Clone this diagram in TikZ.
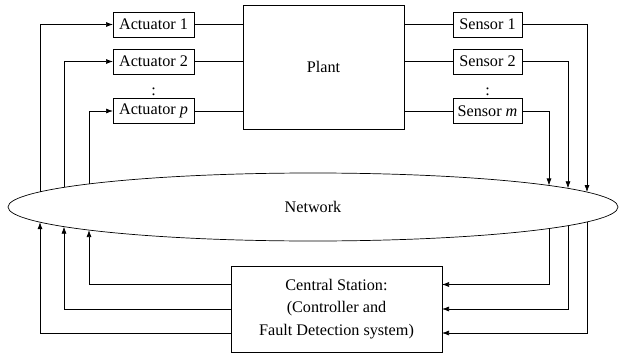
\documentclass[tikz,border=0pt]{standalone}
\usepackage{fontspec}
\setmainfont{Liberation Serif}
\usetikzlibrary{positioning,arrows.meta,shapes.geometric}

\begin{document}
\begin{tikzpicture}[x=1pt, y=-1pt, line width=0.7pt,
  block/.style={rectangle, draw, inner sep=0pt, outer sep=0pt, minimum height=25pt},
  arr/.style={-{Latex[length=7pt,width=5pt]}},
  every node/.style={font=\fontsize{16.2}{22.5}\selectfont}]
\useasboundingbox (0,0) rectangle (619,356);

\node[block, minimum width=81pt] (act1) at (153.5,24.5) {Actuator 1};
\node[block, minimum width=81pt] (act2) at (153.5,61.5) {Actuator 2};
\node (adots) at (153.5,92) {:};
\node[block, minimum width=81pt] (actp) at (153.5,111) {Actuator \textit{p}};

\node[block, minimum width=161pt, minimum height=124pt] (plant) at (323.5,67) {Plant};

\node[block, minimum width=69pt] (sen1) at (487.5,24.5) {Sensor 1};
\node[block, minimum width=69pt] (sen2) at (487.5,61.5) {Sensor 2};
\node (sdots) at (487.5,92) {:};
\node[block, minimum width=69pt] (senm) at (487.5,111) {Sensor \textit{m}};

\node[ellipse, draw, inner sep=0pt, outer sep=0pt, minimum width=610pt, minimum height=68pt] (net) at (313,207) {Network};

\node[block, minimum width=211pt, minimum height=86pt, align=center] (cs) at (336.5,309) {Central Station:\\(Controller and\\Fault Detection system)};

% points on the network border
\coordinate (nt1) at (40,191.84);
\coordinate (nt2) at (64,187.37);
\coordinate (ntp) at (89,183.92);
\coordinate (nb1) at (40,222.16);
\coordinate (nb2) at (64,226.63);
\coordinate (nbp) at (89,230.08);
\coordinate (ns1) at (587,192.07);
\coordinate (ns2) at (568,188.35);
\coordinate (nsm) at (549,185.46);
\coordinate (nr1) at (587,221.93);
\coordinate (nr2) at (568,225.65);
\coordinate (nrm) at (549,228.54);

\draw (act1.east) -- (act1.east -| plant.west);
\draw (act2.east) -- (act2.east -| plant.west);
\draw (actp.east) -- (actp.east -| plant.west);
\draw (plant.east |- sen1.west) -- (sen1.west);
\draw (plant.east |- sen2.west) -- (sen2.west);
\draw (plant.east |- senm.west) -- (senm.west);

\draw[arr] (nt1) |- (act1.west);
\draw[arr] (nt2) |- (act2.west);
\draw[arr] (ntp) |- (actp.west);

\draw[arr] (sen1.east) -| (ns1);
\draw[arr] (sen2.east) -| (ns2);
\draw[arr] (senm.east) -| (nsm);

\draw[arr] ([yshift=24.5pt]cs.west) -| (nbp);
\draw[arr] (cs.west) -| (nb2);
\draw[arr] ([yshift=-24pt]cs.west) -| (nb1);

\draw[arr] (nrm) |- ([yshift=24.5pt]cs.east);
\draw[arr] (nr2) |- (cs.east);
\draw[arr] (nr1) |- ([yshift=-24pt]cs.east);
\end{tikzpicture}
\end{document}
